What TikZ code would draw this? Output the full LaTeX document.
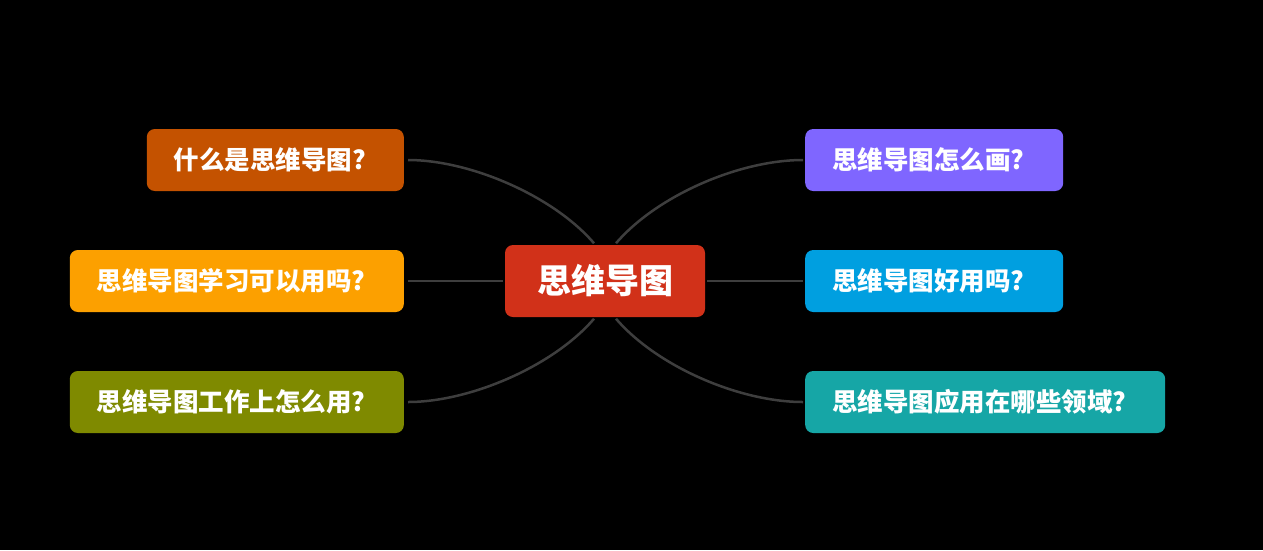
\documentclass[tikz,border=0pt]{standalone}
\usepackage{fontspec}
\setmainfont{Noto Sans CJK SC}
\usetikzlibrary{positioning}
\definecolor{rootred}{HTML}{D13119}
\definecolor{whatbrown}{HTML}{C45200}
\definecolor{learnorange}{HTML}{FCA000}
\definecolor{workolive}{HTML}{7F8A00}
\definecolor{howpurple}{HTML}{7F66FF}
\definecolor{goodblue}{HTML}{009FE0}
\definecolor{fieldteal}{HTML}{16A6A6}
\definecolor{linkgray}{HTML}{3E3E3E}

\begin{document}
\begin{tikzpicture}[
  x=1pt, y=-1pt,
  root/.style={rounded corners=8pt, minimum width=200pt, minimum height=72pt, inner sep=0pt, text=white, font=\bfseries\fontsize{34}{40}\selectfont},
  leaf/.style={rounded corners=8pt, minimum height=62pt, inner xsep=27pt, inner ysep=0pt, align=left, text=white, font=\bfseries\fontsize{25.5}{30}\selectfont},
  link/.style={draw=linkgray, line width=2.5pt},
]
\fill[black] (0,0) rectangle (1263,550);
\useasboundingbox (0,0) rectangle (1263,550);

% centre
\node[root, fill=rootred] (root) at (605,281) {思维导图};

% left branches
\node[leaf, fill=whatbrown, text width=203pt, anchor=east] (what) at (404,160) {什么是思维导图?};
\node[leaf, fill=learnorange, text width=280pt, anchor=east] (learn) at (404,281) {思维导图学习可以用吗?};
\node[leaf, fill=workolive, text width=280pt, anchor=east] (work) at (404,402) {思维导图工作上怎么用?};

% right branches
\node[leaf, fill=howpurple, text width=204pt, anchor=west] (how) at (805,160) {思维导图怎么画?};
\node[leaf, fill=goodblue, text width=204pt, anchor=west] (good) at (805,281) {思维导图好用吗?};
\node[leaf, fill=fieldteal, text width=306pt, anchor=west] (field) at (805,402) {思维导图应用在哪些领域?};

% links
\draw[link, shorten >=4pt, shorten <=2pt] (root.105) .. controls +(-42,-49) and +(66,0) .. (what.east);
\draw[link, shorten >=4pt, shorten <=2pt] (root.west) -- (learn.east);
\draw[link, shorten >=4pt, shorten <=2pt] (root.255) .. controls +(-42,49) and +(66,0) .. (work.east);
\draw[link, shorten >=2pt, shorten <=2pt] (root.75) .. controls +(42,-49) and +(-66,0) .. (how.west);
\draw[link, shorten >=2pt, shorten <=2pt] (root.east) -- (good.west);
\draw[link, shorten >=2pt, shorten <=2pt] (root.285) .. controls +(42,49) and +(-66,0) .. (field.west);

\end{tikzpicture}
\end{document}
